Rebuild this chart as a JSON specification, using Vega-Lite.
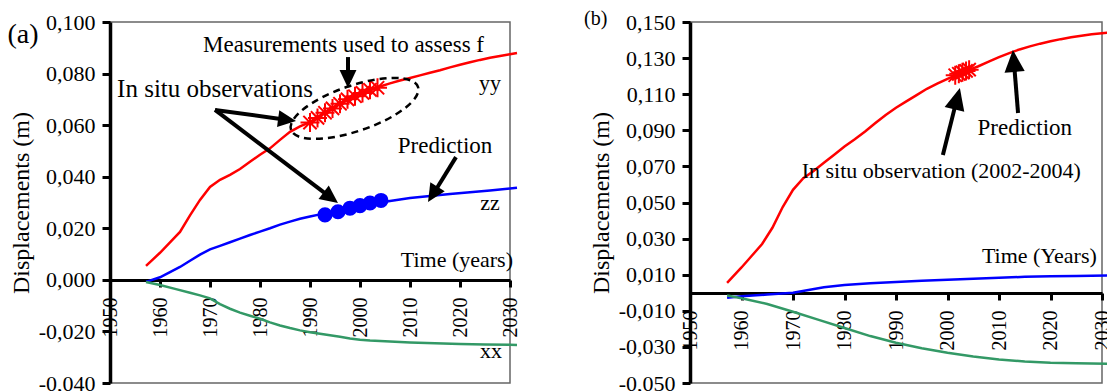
{
  "$schema": "https://vega.github.io/schema/vega-lite/v6.json",
  "padding": {"left": 6, "top": 8, "right": 0, "bottom": 0},
  "spacing": 60,
  "config": {
    "font": "Liberation Serif",
    "view": {"stroke": "#666", "strokeWidth": 1.5},
    "axis": {"labelFont": "Liberation Serif", "titleFont": "Liberation Serif", "labelColor": "#000", "titleColor": "#000", "domainColor": "#000", "tickColor": "#000", "grid": false, "titleFontWeight": "normal", "labelOverlap": false},
    "text": {"font": "Liberation Serif", "fontSize": 22, "color": "#000"}
  },
  "datasets": {
    "a_lines": [
      {"year": 1957.2, "value": 0.0054, "series": "yy"}, {"year": 1960, "value": 0.0105, "series": "yy"}, {"year": 1962, "value": 0.0145, "series": "yy"}, {"year": 1964, "value": 0.0186, "series": "yy"}, {"year": 1966, "value": 0.025, "series": "yy"}, {"year": 1968, "value": 0.031, "series": "yy"}, {"year": 1970, "value": 0.036, "series": "yy"}, {"year": 1972, "value": 0.0388, "series": "yy"}, {"year": 1974, "value": 0.0407, "series": "yy"}, {"year": 1976, "value": 0.043, "series": "yy"}, {"year": 1978, "value": 0.0458, "series": "yy"}, {"year": 1980, "value": 0.0485, "series": "yy"}, {"year": 1982, "value": 0.051, "series": "yy"}, {"year": 1984, "value": 0.0543, "series": "yy"}, {"year": 1986, "value": 0.0574, "series": "yy"}, {"year": 1988, "value": 0.0595, "series": "yy"}, {"year": 1990, "value": 0.0612, "series": "yy"}, {"year": 1992, "value": 0.0636, "series": "yy"}, {"year": 1994, "value": 0.066, "series": "yy"}, {"year": 1996, "value": 0.0684, "series": "yy"}, {"year": 1998, "value": 0.0705, "series": "yy"}, {"year": 2000, "value": 0.0722, "series": "yy"}, {"year": 2002, "value": 0.0737, "series": "yy"}, {"year": 2004, "value": 0.075, "series": "yy"}, {"year": 2006, "value": 0.0762, "series": "yy"}, {"year": 2008, "value": 0.0773, "series": "yy"}, {"year": 2010, "value": 0.0783, "series": "yy"}, {"year": 2012, "value": 0.0793, "series": "yy"}, {"year": 2014, "value": 0.0803, "series": "yy"}, {"year": 2016, "value": 0.0813, "series": "yy"}, {"year": 2018, "value": 0.0824, "series": "yy"}, {"year": 2020, "value": 0.0834, "series": "yy"}, {"year": 2022, "value": 0.0844, "series": "yy"}, {"year": 2024, "value": 0.0853, "series": "yy"}, {"year": 2026, "value": 0.0861, "series": "yy"}, {"year": 2028, "value": 0.0868, "series": "yy"}, {"year": 2030, "value": 0.0875, "series": "yy"}, {"year": 2031.4, "value": 0.088, "series": "yy"},
      {"year": 1957.2, "value": -0.0008, "series": "zz"}, {"year": 1960, "value": 0.001, "series": "zz"}, {"year": 1962, "value": 0.003, "series": "zz"}, {"year": 1964, "value": 0.005, "series": "zz"}, {"year": 1966, "value": 0.0074, "series": "zz"}, {"year": 1968, "value": 0.0098, "series": "zz"}, {"year": 1970, "value": 0.0118, "series": "zz"}, {"year": 1972, "value": 0.0132, "series": "zz"}, {"year": 1974, "value": 0.0146, "series": "zz"}, {"year": 1976, "value": 0.016, "series": "zz"}, {"year": 1978, "value": 0.0174, "series": "zz"}, {"year": 1980, "value": 0.0187, "series": "zz"}, {"year": 1982, "value": 0.02, "series": "zz"}, {"year": 1984, "value": 0.0214, "series": "zz"}, {"year": 1986, "value": 0.0226, "series": "zz"}, {"year": 1988, "value": 0.0237, "series": "zz"}, {"year": 1990, "value": 0.0246, "series": "zz"}, {"year": 1992, "value": 0.0254, "series": "zz"}, {"year": 1994, "value": 0.0262, "series": "zz"}, {"year": 1996, "value": 0.027, "series": "zz"}, {"year": 1998, "value": 0.0278, "series": "zz"}, {"year": 2000, "value": 0.0286, "series": "zz"}, {"year": 2002, "value": 0.0293, "series": "zz"}, {"year": 2004, "value": 0.03, "series": "zz"}, {"year": 2006, "value": 0.0306, "series": "zz"}, {"year": 2008, "value": 0.0312, "series": "zz"}, {"year": 2010, "value": 0.0317, "series": "zz"}, {"year": 2014, "value": 0.0325, "series": "zz"}, {"year": 2018, "value": 0.0333, "series": "zz"}, {"year": 2022, "value": 0.034, "series": "zz"}, {"year": 2026, "value": 0.0347, "series": "zz"}, {"year": 2030, "value": 0.0354, "series": "zz"}, {"year": 2031.4, "value": 0.0357, "series": "zz"},
      {"year": 1957.2, "value": -0.0008, "series": "xx"}, {"year": 1960, "value": -0.002, "series": "xx"}, {"year": 1963, "value": -0.0035, "series": "xx"}, {"year": 1966, "value": -0.005, "series": "xx"}, {"year": 1968, "value": -0.006, "series": "xx"}, {"year": 1970, "value": -0.0072, "series": "xx"}, {"year": 1972, "value": -0.0094, "series": "xx"}, {"year": 1974, "value": -0.0112, "series": "xx"}, {"year": 1976, "value": -0.0127, "series": "xx"}, {"year": 1978, "value": -0.0139, "series": "xx"}, {"year": 1980, "value": -0.0151, "series": "xx"}, {"year": 1982, "value": -0.0165, "series": "xx"}, {"year": 1984, "value": -0.0177, "series": "xx"}, {"year": 1986, "value": -0.0187, "series": "xx"}, {"year": 1988, "value": -0.0196, "series": "xx"}, {"year": 1990, "value": -0.0203, "series": "xx"}, {"year": 1992, "value": -0.0209, "series": "xx"}, {"year": 1994, "value": -0.0215, "series": "xx"}, {"year": 1996, "value": -0.0221, "series": "xx"}, {"year": 1998, "value": -0.0227, "series": "xx"}, {"year": 2000, "value": -0.0232, "series": "xx"}, {"year": 2002, "value": -0.0235, "series": "xx"}, {"year": 2006, "value": -0.0239, "series": "xx"}, {"year": 2010, "value": -0.0243, "series": "xx"}, {"year": 2015, "value": -0.0246, "series": "xx"}, {"year": 2020, "value": -0.0249, "series": "xx"}, {"year": 2025, "value": -0.0251, "series": "xx"}, {"year": 2030, "value": -0.0252, "series": "xx"}, {"year": 2031.4, "value": -0.0253, "series": "xx"}
    ],
    "a_yy_obs": [
      {"year": 1990.0, "value": 0.061}, {"year": 1991.5, "value": 0.0628}, {"year": 1993.0, "value": 0.0648}, {"year": 1994.5, "value": 0.0665}, {"year": 1996.0, "value": 0.0683}, {"year": 1997.5, "value": 0.07}, {"year": 1999.0, "value": 0.0712}, {"year": 2000.5, "value": 0.0725}, {"year": 2002.0, "value": 0.0737}, {"year": 2003.5, "value": 0.0745}
    ],
    "a_zz_obs": [
      {"year": 1993.0, "value": 0.0252}, {"year": 1995.6, "value": 0.0264}, {"year": 1998.0, "value": 0.0278}, {"year": 2000.0, "value": 0.0288}, {"year": 2002.0, "value": 0.0298}, {"year": 2004.2, "value": 0.0308}
    ],
    "b_lines": [
      {"year": 1957.2, "value": 0.0055, "series": "yy"}, {"year": 1960, "value": 0.014, "series": "yy"}, {"year": 1962, "value": 0.0205, "series": "yy"}, {"year": 1964, "value": 0.027, "series": "yy"}, {"year": 1966, "value": 0.036, "series": "yy"}, {"year": 1968, "value": 0.0475, "series": "yy"}, {"year": 1970, "value": 0.057, "series": "yy"}, {"year": 1972, "value": 0.0635, "series": "yy"}, {"year": 1974, "value": 0.0675, "series": "yy"}, {"year": 1976, "value": 0.072, "series": "yy"}, {"year": 1978, "value": 0.0765, "series": "yy"}, {"year": 1980, "value": 0.081, "series": "yy"}, {"year": 1982, "value": 0.085, "series": "yy"}, {"year": 1984, "value": 0.0893, "series": "yy"}, {"year": 1986, "value": 0.094, "series": "yy"}, {"year": 1988, "value": 0.0985, "series": "yy"}, {"year": 1990, "value": 0.1025, "series": "yy"}, {"year": 1992, "value": 0.106, "series": "yy"}, {"year": 1994, "value": 0.1095, "series": "yy"}, {"year": 1996, "value": 0.113, "series": "yy"}, {"year": 1998, "value": 0.1158, "series": "yy"}, {"year": 2000, "value": 0.1185, "series": "yy"}, {"year": 2002, "value": 0.121, "series": "yy"}, {"year": 2004, "value": 0.1232, "series": "yy"}, {"year": 2006, "value": 0.1255, "series": "yy"}, {"year": 2008, "value": 0.128, "series": "yy"}, {"year": 2010, "value": 0.1305, "series": "yy"}, {"year": 2012, "value": 0.1328, "series": "yy"}, {"year": 2014, "value": 0.1348, "series": "yy"}, {"year": 2016, "value": 0.1365, "series": "yy"}, {"year": 2018, "value": 0.138, "series": "yy"}, {"year": 2020, "value": 0.1393, "series": "yy"}, {"year": 2022, "value": 0.1405, "series": "yy"}, {"year": 2024, "value": 0.1415, "series": "yy"}, {"year": 2026, "value": 0.1424, "series": "yy"}, {"year": 2028, "value": 0.1432, "series": "yy"}, {"year": 2030, "value": 0.1438, "series": "yy"}, {"year": 2031, "value": 0.1441, "series": "yy"},
      {"year": 1957.2, "value": -0.0028, "series": "zz"}, {"year": 1960, "value": -0.002, "series": "zz"}, {"year": 1965, "value": -0.001, "series": "zz"}, {"year": 1970, "value": 0.0, "series": "zz"}, {"year": 1973, "value": 0.0015, "series": "zz"}, {"year": 1976, "value": 0.003, "series": "zz"}, {"year": 1980, "value": 0.0043, "series": "zz"}, {"year": 1985, "value": 0.0052, "series": "zz"}, {"year": 1990, "value": 0.006, "series": "zz"}, {"year": 1995, "value": 0.0066, "series": "zz"}, {"year": 2000, "value": 0.0072, "series": "zz"}, {"year": 2005, "value": 0.0078, "series": "zz"}, {"year": 2010, "value": 0.0083, "series": "zz"}, {"year": 2015, "value": 0.0088, "series": "zz"}, {"year": 2020, "value": 0.0091, "series": "zz"}, {"year": 2025, "value": 0.0093, "series": "zz"}, {"year": 2031, "value": 0.0095, "series": "zz"},
      {"year": 1957.2, "value": -0.0015, "series": "xx"}, {"year": 1960, "value": -0.003, "series": "xx"}, {"year": 1965, "value": -0.0062, "series": "xx"}, {"year": 1970, "value": -0.0105, "series": "xx"}, {"year": 1975, "value": -0.015, "series": "xx"}, {"year": 1980, "value": -0.0195, "series": "xx"}, {"year": 1985, "value": -0.024, "series": "xx"}, {"year": 1990, "value": -0.0277, "series": "xx"}, {"year": 1995, "value": -0.0307, "series": "xx"}, {"year": 2000, "value": -0.0332, "series": "xx"}, {"year": 2005, "value": -0.0353, "series": "xx"}, {"year": 2010, "value": -0.037, "series": "xx"}, {"year": 2015, "value": -0.0381, "series": "xx"}, {"year": 2020, "value": -0.0388, "series": "xx"}, {"year": 2025, "value": -0.0391, "series": "xx"}, {"year": 2031, "value": -0.0394, "series": "xx"}
    ],
    "b_yy_obs": [
      {"year": 2001.5, "value": 0.1205}, {"year": 2002.2, "value": 0.1213}, {"year": 2002.9, "value": 0.1221}, {"year": 2003.6, "value": 0.1229}, {"year": 2004.2, "value": 0.1236}
    ]
  },
  "hconcat": [
    {
      "width": 400,
      "height": 361,
      "layer": [
        {
          "data": {"name": "a_lines"},
          "mark": {"type": "line", "strokeWidth": 2.5},
          "encoding": {
            "x": {"field": "year", "type": "quantitative", "scale": {"domain": [1950, 2030], "nice": false, "zero": false},
              "axis": {"title": null, "orient": "bottom", "offset": -103, "values": [1950, 1960, 1970, 1980, 1990, 2000, 2010, 2020, 2030], "tickCount": 20, "format": "d", "labelAngle": 270, "labelFontSize": 20, "labelPadding": 10, "labelFlush": false, "labelOverlap": false, "domainWidth": 3, "tickWidth": 3, "tickSize": 7}},
            "y": {"field": "value", "type": "quantitative", "scale": {"domain": [-0.04, 0.1], "nice": false, "zero": false},
              "axis": {"title": "Displacements (m)", "titleFontSize": 24, "titlePadding": 5, "values": [-0.04, -0.02, 0, 0.02, 0.04, 0.06, 0.08, 0.1], "tickCount": 20, "labelExpr": "(datum.value < 0 ? '-' : '') + replace(format(abs(datum.value), '.3f'), '.', ',')", "labelFontSize": 22, "labelPadding": 7, "labelOverlap": false, "domainWidth": 3.5, "tickWidth": 3, "tickSize": 8}},
            "color": {"field": "series", "type": "nominal", "scale": {"domain": ["yy", "zz", "xx"], "range": ["#ff0000", "#0000ff", "#339966"]}, "legend": null}
          }
        },
        {
          "data": {"name": "a_yy_obs"},
          "mark": {"type": "point", "shape": "M-1,0L1,0M0,-1L0,1M-0.7,-0.7L0.7,0.7M-0.7,0.7L0.7,-0.7", "filled": false, "color": "#ff0000", "strokeWidth": 2, "size": 361, "opacity": 1},
          "encoding": {"x": {"field": "year", "type": "quantitative"}, "y": {"field": "value", "type": "quantitative"}}
        },
        {
          "data": {"name": "a_zz_obs"},
          "mark": {"type": "circle", "color": "#0000ff", "size": 227, "opacity": 1},
          "encoding": {"x": {"field": "year", "type": "quantitative"}, "y": {"field": "value", "type": "quantitative"}}
        },
        {
          "data": {"values": [{}]},
          "mark": {"type": "point", "shape": "M-1,0A1,0.34 0 1,1 1,0A1,0.34 0 1,1 -1,0Z", "filled": false, "color": "#000", "strokeWidth": 2.5, "strokeDash": [7, 5], "size": 17956, "angle": -18.7, "opacity": 1},
          "encoding": {"x": {"datum": 1998.9, "type": "quantitative"}, "y": {"datum": 0.0665, "type": "quantitative"}}
        },
        {
          "data": {"values": [{}]},
          "mark": {"type": "rule", "strokeWidth": 4, "color": "#000"},
          "encoding": {"x": {"datum": 1997.6, "type": "quantitative"}, "y": {"datum": 0.0864, "type": "quantitative"}, "x2": {"datum": 1997.6}, "y2": {"datum": 0.079}}
        },
        {
          "data": {"values": [{}]},
          "mark": {"type": "point", "shape": "M0,0L-0.47,1L0.47,1Z", "filled": true, "color": "#000", "opacity": 1, "size": 1296, "angle": 180},
          "encoding": {"x": {"datum": 1997.6, "type": "quantitative"}, "y": {"datum": 0.0744, "type": "quantitative"}}
        },
        {
          "data": {"values": [{}]},
          "mark": {"type": "rule", "strokeWidth": 4, "color": "#000"},
          "encoding": {"x": {"datum": 1971.0, "type": "quantitative"}, "y": {"datum": 0.0659, "type": "quantitative"}, "x2": {"datum": 1984.8}, "y2": {"datum": 0.0622}}
        },
        {
          "data": {"values": [{}]},
          "mark": {"type": "point", "shape": "M0,0L-0.47,1L0.47,1Z", "filled": true, "color": "#000", "opacity": 1, "size": 1296, "angle": 97.7},
          "encoding": {"x": {"datum": 1987.2, "type": "quantitative"}, "y": {"datum": 0.0616, "type": "quantitative"}}
        },
        {
          "data": {"values": [{}]},
          "mark": {"type": "rule", "strokeWidth": 4, "color": "#000"},
          "encoding": {"x": {"datum": 1971.0, "type": "quantitative"}, "y": {"datum": 0.0659, "type": "quantitative"}, "x2": {"datum": 1993.7}, "y2": {"datum": 0.0326}}
        },
        {
          "data": {"values": [{}]},
          "mark": {"type": "point", "shape": "M0,0L-0.47,1L0.47,1Z", "filled": true, "color": "#000", "opacity": 1, "size": 1296, "angle": 127.1},
          "encoding": {"x": {"datum": 1995.6, "type": "quantitative"}, "y": {"datum": 0.0298, "type": "quantitative"}}
        },
        {
          "data": {"values": [{}]},
          "mark": {"type": "rule", "strokeWidth": 4, "color": "#000"},
          "encoding": {"x": {"datum": 2019.2, "type": "quantitative"}, "y": {"datum": 0.0476, "type": "quantitative"}, "x2": {"datum": 2014.9}, "y2": {"datum": 0.0341}}
        },
        {
          "data": {"values": [{}]},
          "mark": {"type": "point", "shape": "M0,0L-0.47,1L0.47,1Z", "filled": true, "color": "#000", "opacity": 1, "size": 1296, "angle": 211.9},
          "encoding": {"x": {"datum": 2013.6, "type": "quantitative"}, "y": {"datum": 0.0302, "type": "quantitative"}}
        },
        {
          "data": {"values": [{}]},
          "mark": {"type": "text", "fontSize": 28, "align": "center", "baseline": "alphabetic"},
          "encoding": {"x": {"datum": 1932.6, "type": "quantitative"}, "y": {"datum": 0.0919, "type": "quantitative"}, "text": {"value": "(a)"}}
        },
        {
          "data": {"values": [{}]},
          "mark": {"type": "text", "fontSize": 23, "align": "center", "baseline": "alphabetic"},
          "encoding": {"x": {"datum": 1996.7, "type": "quantitative"}, "y": {"datum": 0.0884, "type": "quantitative"}, "text": {"value": "Measurements used to assess f"}}
        },
        {
          "data": {"values": [{}]},
          "mark": {"type": "text", "fontSize": 25, "align": "center", "baseline": "alphabetic"},
          "encoding": {"x": {"datum": 1971.0, "type": "quantitative"}, "y": {"datum": 0.0709, "type": "quantitative"}, "text": {"value": "In situ observations"}}
        },
        {
          "data": {"values": [{}]},
          "mark": {"type": "text", "fontSize": 23, "align": "center", "baseline": "alphabetic"},
          "encoding": {"x": {"datum": 2017.0, "type": "quantitative"}, "y": {"datum": 0.0492, "type": "quantitative"}, "text": {"value": "Prediction"}}
        },
        {
          "data": {"values": [{}]},
          "mark": {"type": "text", "align": "center", "baseline": "alphabetic"},
          "encoding": {"x": {"datum": 2026.0, "type": "quantitative"}, "y": {"datum": 0.0736, "type": "quantitative"}, "text": {"value": "yy"}}
        },
        {
          "data": {"values": [{}]},
          "mark": {"type": "text", "align": "center", "baseline": "alphabetic"},
          "encoding": {"x": {"datum": 2026.0, "type": "quantitative"}, "y": {"datum": 0.0271, "type": "quantitative"}, "text": {"value": "zz"}}
        },
        {
          "data": {"values": [{}]},
          "mark": {"type": "text", "align": "center", "baseline": "alphabetic"},
          "encoding": {"x": {"datum": 2026.2, "type": "quantitative"}, "y": {"datum": -0.0303, "type": "quantitative"}, "text": {"value": "xx"}}
        },
        {
          "data": {"values": [{}]},
          "mark": {"type": "text", "align": "right", "baseline": "alphabetic"},
          "encoding": {"x": {"datum": 2030.6, "type": "quantitative"}, "y": {"datum": 0.0051, "type": "quantitative"}, "text": {"value": "Time (years)"}}
        }
      ]
    },
    {
      "width": 412,
      "height": 361,
      "layer": [
        {
          "data": {"name": "b_lines"},
          "mark": {"type": "line", "strokeWidth": 2.5},
          "encoding": {
            "x": {"field": "year", "type": "quantitative", "scale": {"domain": [1950, 2030], "nice": false, "zero": false},
              "axis": {"title": null, "orient": "bottom", "offset": -90, "values": [1950, 1960, 1970, 1980, 1990, 2000, 2010, 2020, 2030], "tickCount": 20, "format": "d", "labelAngle": 270, "labelFontSize": 20, "labelPadding": 10, "labelFlush": false, "labelOverlap": false, "domainWidth": 3, "tickWidth": 3, "tickSize": 7}},
            "y": {"field": "value", "type": "quantitative", "scale": {"domain": [-0.05, 0.15], "nice": false, "zero": false},
              "axis": {"title": "Displacements (m)", "titleFontSize": 24, "titlePadding": 5, "values": [-0.05, -0.03, -0.01, 0.01, 0.03, 0.05, 0.07, 0.09, 0.11, 0.13, 0.15], "tickCount": 20, "labelExpr": "(datum.value < 0 ? '-' : '') + replace(format(abs(datum.value), '.3f'), '.', ',')", "labelFontSize": 22, "labelPadding": 7, "labelOverlap": false, "domainWidth": 3.5, "tickWidth": 3, "tickSize": 8}},
            "color": {"field": "series", "type": "nominal", "scale": {"domain": ["yy", "zz", "xx"], "range": ["#ff0000", "#0000ff", "#339966"]}, "legend": null}
          }
        },
        {
          "data": {"name": "b_yy_obs"},
          "mark": {"type": "point", "shape": "M-1,0L1,0M0,-1L0,1M-0.7,-0.7L0.7,0.7M-0.7,0.7L0.7,-0.7", "filled": false, "color": "#ff0000", "strokeWidth": 2, "size": 361, "opacity": 1},
          "encoding": {"x": {"field": "year", "type": "quantitative"}, "y": {"field": "value", "type": "quantitative"}}
        },
        {
          "data": {"values": [{}]},
          "mark": {"type": "rule", "strokeWidth": 4, "color": "#000"},
          "encoding": {"x": {"datum": 1999.1, "type": "quantitative"}, "y": {"datum": 0.0763, "type": "quantitative"}, "x2": {"datum": 2001.8}, "y2": {"datum": 0.107}}
        },
        {
          "data": {"values": [{}]},
          "mark": {"type": "point", "shape": "M0,0L-0.46,1L0.46,1Z", "filled": true, "color": "#000", "opacity": 1, "size": 1936, "angle": 14.2},
          "encoding": {"x": {"datum": 2002.4, "type": "quantitative"}, "y": {"datum": 0.1134, "type": "quantitative"}}
        },
        {
          "data": {"values": [{}]},
          "mark": {"type": "rule", "strokeWidth": 4, "color": "#000"},
          "encoding": {"x": {"datum": 2013.7, "type": "quantitative"}, "y": {"datum": 0.0996, "type": "quantitative"}, "x2": {"datum": 2012.9}, "y2": {"datum": 0.1278}}
        },
        {
          "data": {"values": [{}]},
          "mark": {"type": "point", "shape": "M0,0L-0.46,1L0.46,1Z", "filled": true, "color": "#000", "opacity": 1, "size": 1936, "angle": -4.5},
          "encoding": {"x": {"datum": 2012.7, "type": "quantitative"}, "y": {"datum": 0.1345, "type": "quantitative"}}
        },
        {
          "data": {"values": [{}]},
          "mark": {"type": "text", "fontSize": 20, "align": "center", "baseline": "alphabetic"},
          "encoding": {"x": {"datum": 1931.7, "type": "quantitative"}, "y": {"datum": 0.1483, "type": "quantitative"}, "text": {"value": "(b)"}}
        },
        {
          "data": {"values": [{}]},
          "mark": {"type": "text", "align": "center", "baseline": "alphabetic"},
          "encoding": {"x": {"datum": 1998.8, "type": "quantitative"}, "y": {"datum": 0.0636, "type": "quantitative"}, "text": {"value": "In situ observation (2002-2004)"}}
        },
        {
          "data": {"values": [{}]},
          "mark": {"type": "text", "fontSize": 23, "align": "center", "baseline": "alphabetic"},
          "encoding": {"x": {"datum": 2015.0, "type": "quantitative"}, "y": {"datum": 0.0874, "type": "quantitative"}, "text": {"value": "Prediction"}}
        },
        {
          "data": {"values": [{}]},
          "mark": {"type": "text", "align": "right", "baseline": "alphabetic"},
          "encoding": {"x": {"datum": 2029.0, "type": "quantitative"}, "y": {"datum": 0.0166, "type": "quantitative"}, "text": {"value": "Time (Years)"}}
        }
      ]
    }
  ]
}
